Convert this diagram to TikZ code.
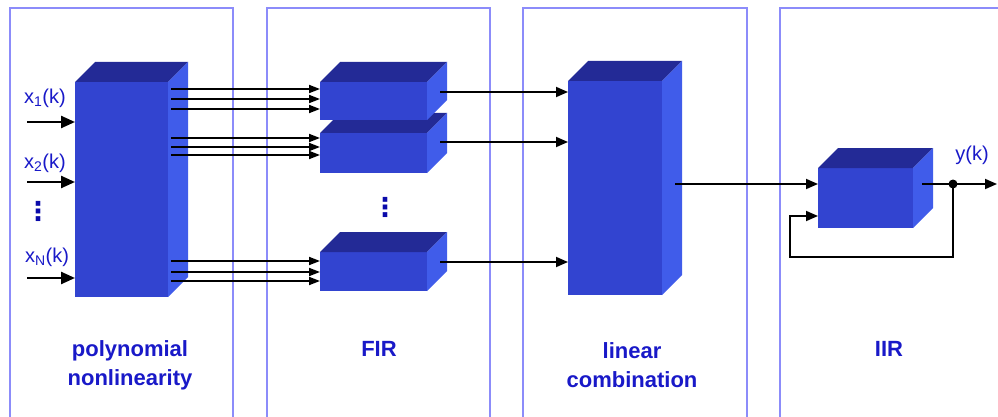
\documentclass[tikz,border=0pt]{standalone}
\usepackage{fontspec}
\setmainfont{Liberation Sans}
\newfontfamily\djv{DejaVu Sans}
\usetikzlibrary{arrows.meta,calc}
\definecolor{frontc}{RGB}{50,68,208}
\definecolor{topc}{RGB}{35,42,150}
\definecolor{sidec}{RGB}{64,92,234}
\definecolor{panelc}{RGB}{140,140,250}
\definecolor{txtc}{RGB}{25,25,200}
\definecolor{dotc}{RGB}{10,10,170}
\tikzset{
 frontface/.style={rectangle, fill=frontc, draw=none, inner sep=0, outer sep=0},
 panel/.style={draw=panelc, line width=1.6},
 wire/.style={line width=1.8, black},
 arr/.style={wire, -{Triangle[length=12,width=10]}},
 bund/.style={line width=1.8, black, -{Triangle[length=11,width=8]}},
 inarr/.style={line width=2.4, black, -{Triangle[length=14,width=12]}},
 lbl/.style={font=\fontsize{22}{29}\selectfont\bfseries, text=txtc, align=center},
 sig/.style={font=\fontsize{20}{22}\selectfont, text=txtc, inner sep=0},
 vdot/.style={text=dotc, inner sep=0, font=\djv\bfseries\fontsize{26}{26}\selectfont},
}
\newcommand\boxfaces[1]{%
 \fill[topc] (#1.north west) -- ++(20,-20) -- ($(#1.north east)+(20,-20)$) -- (#1.north east) -- cycle;
 \fill[sidec] (#1.north east) -- ++(20,-20) -- ($(#1.south east)+(20,-20)$) -- (#1.south east) -- cycle;}
\begin{document}
\begin{tikzpicture}[x=1pt,y=-1pt]
\useasboundingbox (0,0) rectangle (998,417);
\clip (0,0) rectangle (998,417);
% panels
\draw[panel] (10,425) -- (10,8) -- (233,8) -- (233,425);
\draw[panel] (267,425) -- (267,8) -- (490,8) -- (490,425);
\draw[panel] (523,425) -- (523,8) -- (747,8) -- (747,425);
\draw[panel] (780,425) -- (780,8) -- (1005,8);
% blocks
\node[frontface, minimum width=93, minimum height=215] (P) at (121.5,189.5) {};
\boxfaces{P}
\node[frontface, minimum width=107, minimum height=40] (F2) at (373.5,153) {};
\boxfaces{F2}
\node[frontface, minimum width=107, minimum height=38] (F1) at (373.5,101) {};
\boxfaces{F1}
\node[frontface, minimum width=107, minimum height=39] (F3) at (373.5,271.5) {};
\boxfaces{F3}
\node[frontface, minimum width=94, minimum height=214] (L) at (615,188) {};
\boxfaces{L}
\node[frontface, minimum width=95, minimum height=60] (I) at (865.5,198) {};
\boxfaces{I}
% inputs
\coordinate (in1) at (27,122);
\coordinate (in2) at (27,182);
\coordinate (inN) at (27,278);
\draw[inarr] (in1) -- (in1 -| P.west);
\draw[inarr] (in2) -- (in2 -| P.west);
\draw[inarr] (inN) -- (inN -| P.west);
\node[sig] (x1) at (45,98) {x\textsubscript{1}(k)};
\node[sig] (x2) at (45,163) {x\textsubscript{2}(k)};
\node[sig] (xN) at (47,257) {x\textsubscript{N}(k)};
\node[vdot] (d1) at (38,211) {⋮};
% bundles
\coordinate (Po) at ($(P.east)+(3,0)$);
\foreach \yy in {89,99,109} \draw[bund] (Po |- 0,\yy) -- (F1.west |- 0,\yy);
\foreach \yy in {138,147,155} \draw[bund] (Po |- 0,\yy) -- (F2.west |- 0,\yy);
\foreach \yy in {261,272,281} \draw[bund] (Po |- 0,\yy) -- (F3.west |- 0,\yy);
\node[vdot] (d2) at (385,207) {⋮};
% FIR outputs
\coordinate (F1o) at ($(F1.east)+(13,-9)$);
\coordinate (F2o) at ($(F2.east)+(13,-11)$);
\coordinate (F3o) at ($(F3.east)+(13,-9.5)$);
\draw[arr] (F1o) -- (F1o -| L.west);
\draw[arr] (F2o) -- (F2o -| L.west);
\draw[arr] (F3o) -- (F3o -| L.west);
% linear combination -> IIR
\coordinate (Lo) at ($(L.east)+(13,-4)$);
\draw[arr] (Lo) -- (Lo -| I.west);
% IIR output and feedback
\coordinate (Io) at ($(I.east)+(9,-14)$);
\coordinate (J) at ($(Io)+(31,0)$);
\coordinate (yend) at (997,184);
\coordinate (fb) at (790,257);
\draw[arr] (Io) -- (yend);
\draw[arr] (J) |- (fb) |- (I.west |- 0,216);
\fill (J) circle (4.5);
\node[sig] (yk) at (972,155) {y(k)};
% captions
\node[lbl] (cP) at (130,365) {polynomial\\nonlinearity};
\node[lbl] (cF) at (379,349) {FIR};
\node[lbl] (cL) at (632,365) {linear\\combination};
\node[lbl] (cI) at (889,349) {IIR};
\end{tikzpicture}
\end{document}
